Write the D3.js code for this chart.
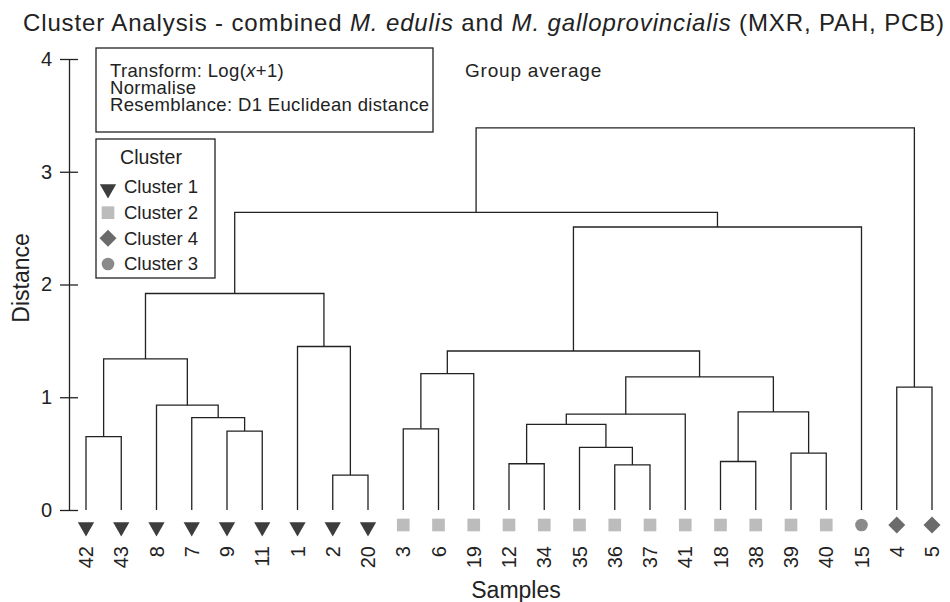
<!DOCTYPE html>
<html>
<head>
<meta charset="utf-8">
<style>
  body { margin: 0; background: #fff; }
  svg { font-family: "Liberation Sans", Arial, Helvetica, sans-serif; }
</style>
</head>
<body>
<svg width="950" height="602"></svg>
<script src="https://d3js.org/d3.v7.min.js"></script>
<script>
    // leaves in plotted order, and the cluster each one belongs to
    var samples = ["42", "43", "8", "7", "9", "11", "1", "2", "20",
        "3", "6", "19", "12", "34", "35", "36", "37", "41", "18", "38", "39", "40",
        "15", "4", "5"];
    var sampleCluster = ["Cluster 1", "Cluster 1", "Cluster 1", "Cluster 1", "Cluster 1", "Cluster 1", "Cluster 1", "Cluster 1", "Cluster 1",
        "Cluster 2", "Cluster 2", "Cluster 2", "Cluster 2", "Cluster 2", "Cluster 2", "Cluster 2", "Cluster 2", "Cluster 2", "Cluster 2", "Cluster 2", "Cluster 2", "Cluster 2",
        "Cluster 3", "Cluster 4", "Cluster 4"];

    // group-average merges: [left, right, distance]; "m<n>" points to the n-th merge (0-based)
    var merges = [
        ["42", "43", 0.65],   // m0
        ["9", "11", 0.70],    // m1
        ["7", "m1", 0.82],    // m2
        ["8", "m2", 0.93],    // m3
        ["m0", "m3", 1.34],   // m4
        ["2", "20", 0.31],    // m5
        ["1", "m5", 1.45],    // m6
        ["m4", "m6", 1.92],   // m7
        ["3", "6", 0.72],     // m8
        ["m8", "19", 1.21],   // m9
        ["12", "34", 0.41],   // m10
        ["36", "37", 0.40],   // m11
        ["35", "m11", 0.555], // m12
        ["m10", "m12", 0.76], // m13
        ["m13", "41", 0.85],  // m14
        ["18", "38", 0.43],   // m15
        ["39", "40", 0.505],  // m16
        ["m15", "m16", 0.87], // m17
        ["m14", "m17", 1.18], // m18
        ["m9", "m18", 1.41],  // m19
        ["m19", "15", 2.51],  // m20
        ["m7", "m20", 2.64],  // m21
        ["4", "5", 1.09],     // m22
        ["m21", "m22", 3.39]  // m23
    ];

    var legendOrder = ["Cluster 1", "Cluster 2", "Cluster 4", "Cluster 3"];
    var yTicks = [0, 1, 2, 3, 4];

    var svg = d3.select("svg");
    var ink = "#222";

    var x = d3.scalePoint().domain(samples).range([86, 932]);
    var y = d3.scaleLinear().domain([0, 4]).range([510, 59]);

    var symbolOf = {
        "Cluster 1": { type: d3.symbolTriangle, size: 115, rot: 180, fill: "#3d3d3d", dy: 2 },
        "Cluster 2": { type: d3.symbolSquare, size: 160, rot: 0, fill: "#bcbcbc", dy: 0 },
        "Cluster 4": { type: d3.symbolSquare, size: 145, rot: 45, fill: "#6b6b6b", dy: 0 },
        "Cluster 3": { type: d3.symbolCircle, size: 125, rot: 0, fill: "#8a8a8a", dy: 0 }
    };

    // stretch letter spacing so a text spans the given width
    function fitWidth(sel, width) {
        var n = sel.text().length;
        var w = sel.node().getComputedTextLength();
        sel.attr("letter-spacing", ((width - w) / n) + "px");
    }

    // build the tree from the merge list
    var nodes = {};
    samples.forEach(function (s) { nodes[s] = { name: s, height: 0 }; });
    merges.forEach(function (m, i) {
        nodes["m" + i] = { name: "m" + i, height: m[2], children: [nodes[m[0]], nodes[m[1]]] };
    });
    var root = d3.hierarchy(nodes["m" + (merges.length - 1)]);
    root.eachAfter(function (d) {
        if (d.children) {
            d.px = d3.mean(d.children, function (c) { return c.px; });
        } else {
            d.px = x(d.data.name);
        }
        d.py = y(d.data.height);
    });

    // title
    var title = svg.append("text")
        .attr("x", 23)
        .attr("y", 31)
        .attr("font-size", 24)
        .attr("fill", ink);
    title.append("tspan").text("Cluster Analysis - combined ");
    title.append("tspan").attr("font-style", "italic").text("M. edulis");
    title.append("tspan").text(" and ");
    title.append("tspan").attr("font-style", "italic").text("M. galloprovincialis");
    title.append("tspan").text(" (MXR, PAH, PCB)");
    fitWidth(title, 922);

    // y axis
    var yAxis = svg.append("g")
        .attr("transform", "translate(69,0)")
        .call(d3.axisLeft(y).tickValues(yTicks).tickSizeOuter(0).tickFormat(d3.format("d")));
    yAxis.select(".domain").attr("stroke", ink).attr("stroke-width", 1.3);
    yAxis.selectAll(".tick line").attr("x1", 9).attr("x2", -9).attr("stroke", ink).attr("stroke-width", 1.3);
    yAxis.selectAll(".tick text")
        .attr("x", -17)
        .attr("font-size", 20)
        .attr("font-family", "Liberation Sans, Arial, sans-serif")
        .attr("fill", ink);

    svg.append("text")
        .attr("transform", "translate(29,278) rotate(-90)")
        .attr("text-anchor", "middle")
        .attr("font-size", 23)
        .attr("fill", ink)
        .text("Distance");

    svg.append("text")
        .attr("x", 516)
        .attr("y", 598)
        .attr("text-anchor", "middle")
        .attr("font-size", 23)
        .attr("fill", ink)
        .text("Samples");

    // dendrogram links (elbows)
    var g = svg.append("g")
        .attr("fill", "none")
        .attr("stroke", ink)
        .attr("stroke-width", 1.3);

    g.selectAll("path.link")
        .data(root.descendants().filter(function (d) { return d.children; }))
        .enter().append("path")
        .attr("class", "link")
        .attr("d", function (d) {
            var a = d.children[0], b = d.children[1];
            return "M" + a.px + "," + a.py + "V" + d.py + "H" + b.px + "V" + b.py;
        });

    // leaf symbols and labels
    var leaves = svg.selectAll("g.leaf")
        .data(samples)
        .enter().append("g")
        .attr("class", "leaf")
        .attr("transform", function (d) { return "translate(" + x(d) + ",0)"; });

    leaves.append("path")
        .attr("transform", function (d, i) {
            var s = symbolOf[sampleCluster[i]];
            return "translate(0," + (525 + s.dy) + ") rotate(" + s.rot + ")";
        })
        .attr("d", function (d, i) {
            var s = symbolOf[sampleCluster[i]];
            return d3.symbol().type(s.type).size(s.size)();
        })
        .attr("fill", function (d, i) { return symbolOf[sampleCluster[i]].fill; });

    leaves.append("text")
        .attr("transform", "translate(0,546) rotate(-90)")
        .attr("text-anchor", "end")
        .attr("dy", "0.35em")
        .attr("font-size", 20)
        .attr("fill", ink)
        .text(function (d) { return d; });

    // method box
    svg.append("rect")
        .attr("x", 96).attr("y", 48)
        .attr("width", 337).attr("height", 84)
        .attr("fill", "#fff")
        .attr("stroke", ink)
        .attr("stroke-width", 1.3);

    var info = svg.append("text")
        .attr("font-size", 18.5)
        .attr("letter-spacing", "0.35px")
        .attr("fill", ink);
    var l1 = info.append("tspan").attr("x", 110).attr("y", 77);
    l1.append("tspan").text("Transform: Log(");
    l1.append("tspan").attr("font-style", "italic").text("x");
    l1.append("tspan").text("+1)");
    info.append("tspan").attr("x", 110).attr("y", 94).text("Normalise");
    info.append("tspan").attr("x", 110).attr("y", 111).text("Resemblance: D1 Euclidean distance");

    var groupLabel = svg.append("text")
        .attr("x", 465)
        .attr("y", 77)
        .attr("font-size", 19)
        .attr("fill", ink)
        .text("Group average");
    fitWidth(groupLabel, 137);

    // legend
    var legend = svg.append("g");
    legend.append("rect")
        .attr("x", 96).attr("y", 139)
        .attr("width", 119).attr("height", 139)
        .attr("fill", "#fff")
        .attr("stroke", ink)
        .attr("stroke-width", 1.3);
    legend.append("text")
        .attr("x", 151).attr("y", 164)
        .attr("text-anchor", "middle")
        .attr("font-size", 19.5)
        .attr("fill", ink)
        .text("Cluster");

    var legendY = d3.scalePoint().domain(legendOrder).range([187, 264]);
    var item = legend.selectAll("g.item")
        .data(legendOrder)
        .enter().append("g")
        .attr("class", "item")
        .attr("transform", function (d) { return "translate(0," + legendY(d) + ")"; });
    item.append("path")
        .attr("transform", function (d) {
            var s = symbolOf[d];
            return "translate(108," + s.dy + ") rotate(" + s.rot + ")";
        })
        .attr("d", function (d) { return d3.symbol().type(symbolOf[d].type).size(symbolOf[d].size)(); })
        .attr("fill", function (d) { return symbolOf[d].fill; });
    item.append("text")
        .attr("x", 124)
        .attr("dy", "0.35em")
        .attr("font-size", 18.5)
        .attr("fill", ink)
        .text(function (d) { return d; });
</script>
</body>
</html>
